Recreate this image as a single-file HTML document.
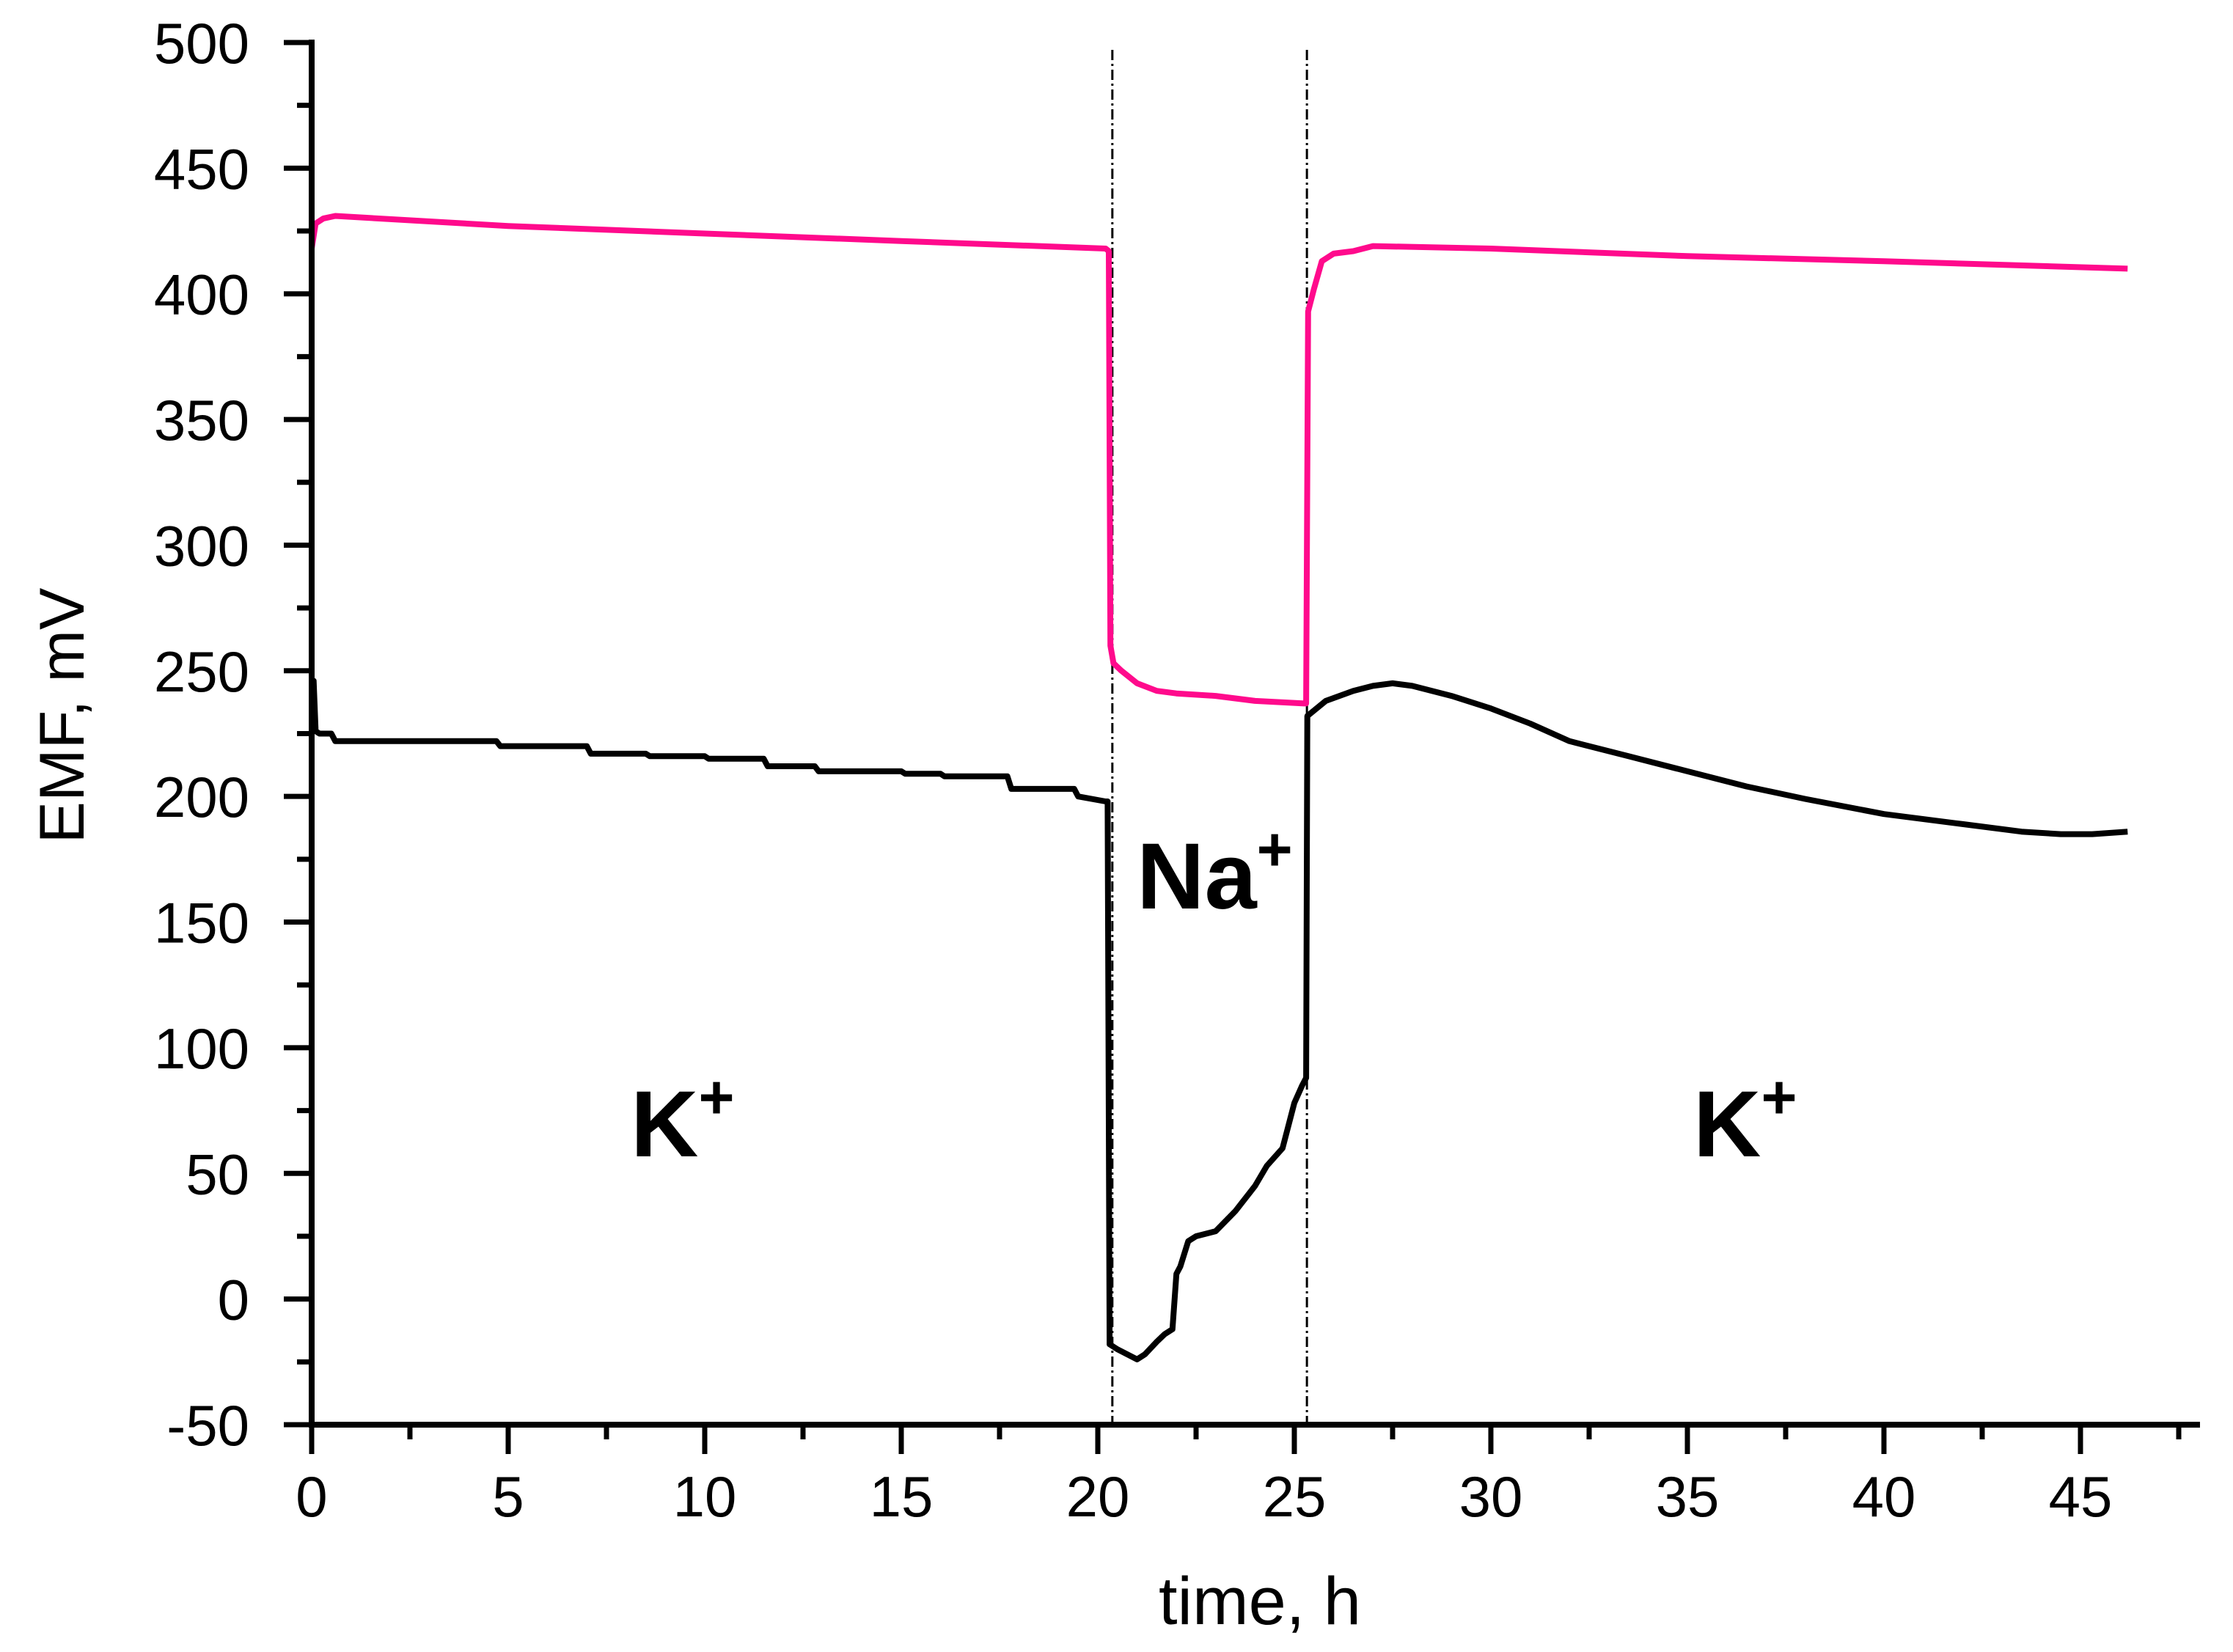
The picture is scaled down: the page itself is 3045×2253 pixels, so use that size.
<!DOCTYPE html>
<html><head><meta charset="utf-8"><style>
html,body{margin:0;padding:0;background:#fff;}
svg{display:block;font-family:"Liberation Sans",Arial,sans-serif;}
</style></head><body>
<svg id="chart" width="3045" height="2253" viewBox="0 0 3045 2253">
<g id="marks"></g>
<g id="axes"></g>
<text x="1718" y="2215" font-size="92" text-anchor="middle">time, h</text>
<text transform="translate(114,976) rotate(-90)" font-size="86" text-anchor="middle">EMF, mV</text>
<text x="860" y="1577" font-size="128" font-weight="bold">K<tspan dy="-52" font-size="84">+</tspan></text>
<text x="1550" y="1239" font-size="128" font-weight="bold">Na<tspan dy="-52" font-size="84">+</tspan></text>
<text x="2309" y="1577" font-size="128" font-weight="bold">K<tspan dy="-52" font-size="84">+</tspan></text>
</svg>
<script>
const xTicks=[0,5,10,15,20,25,30,35,40,45];
const yTicks=[-50,0,50,100,150,200,250,300,350,400,450,500];
const markerTimes=[20.37,25.32];
const pinkT=[0,0.1,0.3,0.6,5,10,15,20.2,20.28,20.32,20.4,20.6,21,21.5,22,23,24,25.25,25.3,25.35,25.5,25.7,26,26.5,27,30,35,40,46.2];
const pinkV=[418,428,430,431,427,424,421,418,417,260,253,250,245,242,241,240,238,237,237,393,402,413,416,417,419,418,415,413,410];
const blackT=[0,0.05,0.1,0.2,0.5,0.6,4.7,4.8,7,7.1,8.5,8.6,10,10.1,11.5,11.6,12.8,12.9,15,15.1,16,16.1,17.7,17.8,19.4,19.5,20.2,20.25,20.3,20.5,21,21.2,21.5,21.7,21.9,22.0,22.1,22.3,22.5,23,23.5,24,24.3,24.7,25,25.2,25.3,25.33,25.8,26.5,27,27.5,28,29,30,31,32,33.5,35,36.5,38,40,42,43.5,44.5,45.3,46.2];
const blackV=[225,246,226,225,225,222,222,220,220,217,217,216,216,215,215,212,212,210,210,209,209,208,208,203,203,200,198,198,-18,-20,-24,-22,-17,-14,-12,10,13,23,25,27,35,45,53,60,78,85,88,232,238,242,244,245,244,240,235,229,222,216,210,204,199,193,189,186,185,185,186];

const X0=425,XS=53.6,Y0=1943,YS=3.4273,YMIN=-50;
function xs(t){return X0+t*XS;}
function ys(v){return Y0-(v-YMIN)*YS;}
const NS='http://www.w3.org/2000/svg';
const marks=document.getElementById('marks');
const axes=document.getElementById('axes');
function mk(tag,attrs,parent){const e=document.createElementNS(NS,tag);for(const k in attrs)e.setAttribute(k,attrs[k]);parent.appendChild(e);return e;}

markerTimes.forEach((t,i)=>{
  const l=mk('line',{x1:xs(t),x2:xs(t),y1:68,y2:Y0,stroke:'#000','stroke-width':3,'stroke-dasharray':'14 5 3 5'},marks);
  
  
});
function path(T,V){return T.map((t,i)=>(i?'L':'M')+xs(t).toFixed(1)+','+ys(V[i]).toFixed(1)).join(' ');}
const pk=mk('path',{d:path(pinkT,pinkV),fill:'none',stroke:'#ff0a8c','stroke-width':8,'stroke-linejoin':'round'},marks);


const bk=mk('path',{d:path(blackT,blackV),fill:'none',stroke:'#000','stroke-width':8,'stroke-linejoin':'round'},marks);



const ya=mk('line',{x1:X0,x2:X0,y1:54,y2:Y0+4,stroke:'#000','stroke-width':8},axes);


const xa=mk('line',{x1:X0-4,x2:3000,y1:Y0,y2:Y0,stroke:'#000','stroke-width':8},axes);


for(let t=0;t<=47.5;t+=2.5){
  const major=(t%5===0);
  const tk=mk('line',{x1:xs(t),x2:xs(t),y1:Y0,y2:Y0+(major?40:20),stroke:'#000','stroke-width':7},axes);
  
  
}
xTicks.forEach(t=>{
  const tx=mk('text',{x:xs(t),y:2068,'font-size':78,'text-anchor':'middle'},axes);
  tx.textContent=t;
  
  
});
for(let v=-50;v<=500;v+=25){
  const major=(v%50===0);
  const tk=mk('line',{x1:X0,x2:X0-(major?38:20),y1:ys(v),y2:ys(v),stroke:'#000','stroke-width':7},axes);
  
  
}
yTicks.forEach(v=>{
  const tx=mk('text',{x:340,y:ys(v)+28,'font-size':78,'text-anchor':'end'},axes);
  tx.textContent=v;
  
  
});
</script>
</body></html>
